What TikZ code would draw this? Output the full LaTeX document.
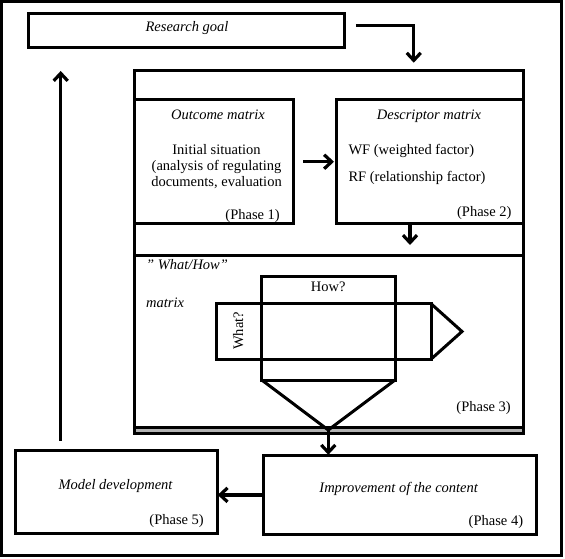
\documentclass[tikz,border=0pt]{standalone}
\usepackage{fontspec}
\setmainfont{Liberation Serif}
\usetikzlibrary{arrows.meta,calc}
\begin{document}
\begin{tikzpicture}[x=1pt,y=-1pt,
  box/.style={draw, line width=3pt, rectangle, inner sep=0pt, outer sep=0pt},
  arr/.style={line width=3.2pt, -{Straight Barb[length=7.5pt,width=14pt]}},
  outl/.style={line width=3pt, line join=miter},
  txt/.style={inner sep=0pt, font=\fontsize{14.5}{15.5}\selectfont},
  itxt/.style={inner sep=0pt, font=\fontsize{14.5}{15.5}\selectfont\itshape},
]
\useasboundingbox (0,0) rectangle (565,559);
% frame
\node[box, minimum width=560pt, minimum height=553.8pt] (frame) at (281.5,278.4) {};
% research goal
\node[box, minimum width=316.7pt, minimum height=34pt] (rg) at (186.6,31) {};
\node[itxt, anchor=base] (trg) at (187,31.7) {Research goal};
% big container
\fill[gray!60] (134.5,428.5) rectangle (523,432);
\node[box, minimum width=388.5pt, minimum height=362pt] (big) at (328.75,252) {};
\node[box, minimum width=388.5pt, minimum height=172.5pt] (sec) at (328.75,341.25) {};
% phase 1
\node[box, minimum width=158.5pt, minimum height=123.5pt] (out) at (213.75,161.75) {};
\node[itxt, anchor=base] (tout) at (218,120) {Outcome matrix};
\node[txt, anchor=base] (init1) at (216.5,155) {Initial situation};
\node[txt, anchor=base] (init2) at (216.5,170.7) {(analysis of regulating};
\node[txt, anchor=base] (init3) at (216.5,186.2) {documents, evaluation};
\node[txt, anchor=base east] (ph1) at (280,219) {(Phase 1)};
% phase 2
\node[box, minimum width=186.3pt, minimum height=123.5pt] (desc) at (429.85,161.75) {};
\node[itxt, anchor=base] (tdesc) at (429,120) {Descriptor matrix};
\node[txt, anchor=base west] (wf) at (348.3,154) {WF (weighted factor)};
\node[txt, anchor=base west] (rf) at (348.3,181.5) {RF (relationship factor)};
\node[txt, anchor=base east] (ph2) at (511.7,216.7) {(Phase 2)};
% phase 3
\node[itxt, anchor=base west] (twh) at (146,269) {" What/How"};
\node[itxt, anchor=base west] (tmat) at (146,307) {matrix};
\node[box, minimum width=133.3pt, minimum height=104pt] (how) at (328.35,328) {};
\node[box, minimum width=214.5pt, minimum height=55.5pt] (what) at (323.75,331.45) {};
\coordinate (rtip) at (462,331.5);
\coordinate (vtip) at (328.3,430);
\draw[outl] (what.north east) -- (rtip) -- (what.south east);
\draw[outl] (how.south west) -- (vtip) -- (how.south east);
\node[txt, anchor=base] (thow) at (328.3,291) {How?};
\node[txt, rotate=90] (twhat) at (238.3,331) {What?};
\node[txt, anchor=base east] (ph3) at (511,411.7) {(Phase 3)};
% phase 4 and 5
\node[box, minimum width=273.4pt, minimum height=78.2pt] (imp) at (400,494.9) {};
\node[itxt, anchor=base] (timp) at (398.7,492.7) {Improvement of the content};
\node[txt, anchor=base east] (ph4) at (523.3,525) {(Phase 4)};
\node[box, minimum width=202.7pt, minimum height=83.3pt] (model) at (116.35,491.65) {};
\node[itxt, anchor=base] (tmodel) at (115.5,489) {Model development};
\node[txt, anchor=base east] (ph5) at (204,524) {(Phase 5)};
% connectors
\draw[arr, shorten <=11pt, shorten >=8.3pt] ([yshift=5.7pt]rg.east) -| ([xshift=85pt]big.north);
\draw[arr, shorten <=10pt, shorten >=2.7pt] (out.east) -- (desc.west);
\draw[arr, shorten >=10pt] ([xshift=-19.85pt]desc.south) -- ([xshift=-19.85pt]desc.south |- sec.north);
\draw[arr, shorten >=1pt] (vtip) -- (vtip |- imp.north);
\draw[arr] (imp.west) -- (imp.west -| model.east);
\draw[arr, shorten <=9.3pt] ([xshift=-55.65pt]model.north) -- ([xshift=-55.65pt]model.north |- big.north);
\end{tikzpicture}
\end{document}
